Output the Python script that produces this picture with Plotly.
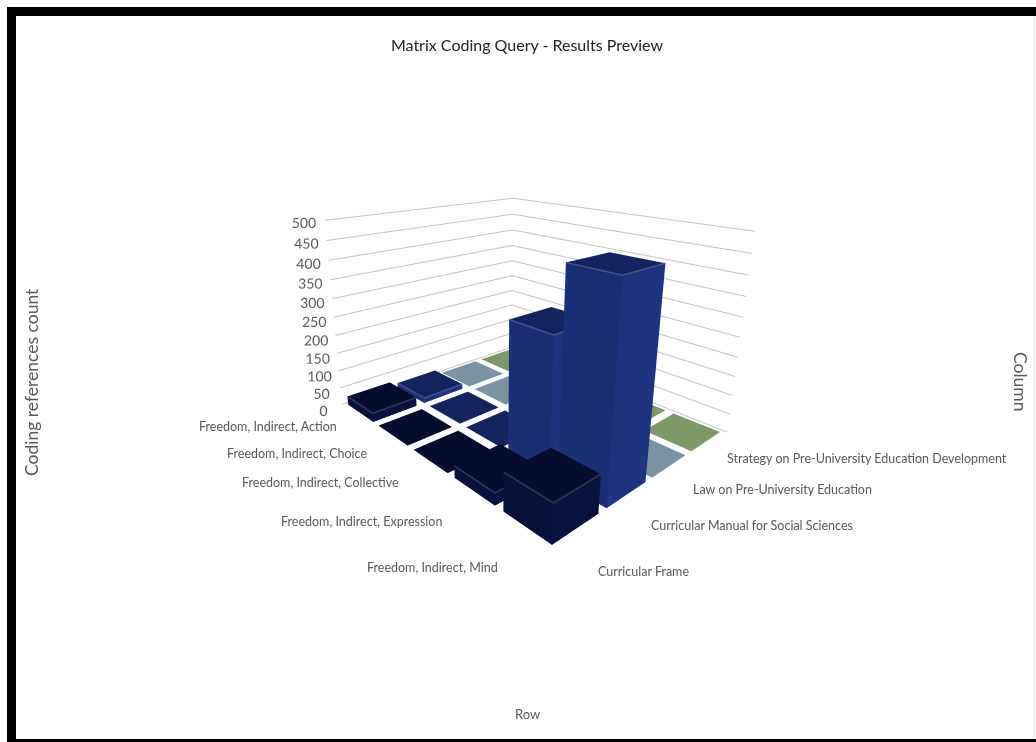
import plotly.graph_objects as go

W, H = 1036, 742
rows = ["Freedom, Indirect, Action", "Freedom, Indirect, Choice", "Freedom, Indirect, Collective",
        "Freedom, Indirect, Expression", "Freedom, Indirect, Mind"]
cols = ["Curricular Frame", "Curricular Manual for Social Sciences", "Law on Pre-University Education",
        "Strategy on Pre-University Education Development"]
frame = [25, 0, 0, 30, 90]
manual = [15, 0, 0, 325, 478]
law = [0, 0, 0, 0, 0]
strategy = [0, 0, 0, 0, 0]
ztick = [0, 50, 100, 150, 200, 250, 300, 350, 400, 450, 500]

GAP = 0.08
FONT = "Lato"
TC = "#595959"
# (top, left side, right side, top-edge highlight) for each column's bars
palette = [("#060c2e", "#071038", "#08123e", "#2f3a63"),
           ("#14245f", "#1b2f77", "#1e3480", "#46558a"),
           ("#7a93a3", "#7a93a3", "#7a93a3", "#7a93a3"),
           ("#7d9968", "#7d9968", "#7d9968", "#7d9968")]

data = []
for c, series in enumerate([frame, manual, law, strategy]):
    X, Y, Z, I, J, K, FC = [], [], [], [], [], [], []
    LX, LY, LZ = [], [], []
    top_c, left_c, right_c, edge = palette[c]
    for r, v in enumerate(series):
        n = len(X)
        x0, x1 = r + GAP, r + 1 - GAP
        y0, y1 = c + GAP, c + 1 - GAP
        X += [x0, x1, x1, x0, x0, x1, x1, x0]
        Y += [y0, y0, y1, y1, y0, y0, y1, y1]
        Z += [0, 0, 0, 0, v, v, v, v]
        quads = [((4, 5, 6, 7), top_c)]
        if v > 0:
            quads += [((0, 1, 5, 4), left_c), ((1, 2, 6, 5), right_c),
                      ((2, 3, 7, 6), right_c), ((3, 0, 4, 7), left_c)]
        for q, col in quads:
            I += [n + q[0], n + q[0]]
            J += [n + q[1], n + q[2]]
            K += [n + q[2], n + q[3]]
            FC += [col, col]
        if v > 0:
            LX += [x0, x1, x1, None]
            LY += [y0, y0, y1, None]
            LZ += [v, v, v, None]
    data.append(go.Mesh3d(x=X, y=Y, z=Z, i=I, j=J, k=K, facecolor=FC, flatshading=True, hoverinfo="skip",
                          lighting=dict(ambient=1, diffuse=0, specular=0, roughness=1, fresnel=0)))
    if LX:
        data.append(go.Scatter3d(x=LX, y=LY, z=LZ, mode="lines", line=dict(color=edge, width=3),
                                 hoverinfo="skip", showlegend=False))

ax_off = dict(showgrid=False, showline=False, zeroline=False, showticklabels=False, showspikes=False,
              showbackground=False, title="", ticks="")
fig = go.Figure(data)


def px(x):
    return x / W


def py(y):
    return 1 - y / H


ann = []


def label(x, y, t, anchor="center", size=12.5, angle=0):
    ann.append(dict(x=px(x), y=py(y), xref="paper", yref="paper", text=t, showarrow=False,
                    xanchor=anchor, yanchor="middle", textangle=angle,
                    font=dict(family=FONT, size=size, color=TC)))


for (lx, ly), t in zip([(339, 426), (369, 453), (401, 482), (444, 521), (500, 567)], rows):
    label(lx, ly, t, "right")
for (lx, ly), t in zip([(596, 571), (649, 525), (691, 489), (725, 459)], cols):
    label(lx, ly, t, "left")
label(31, 382, "Coding references count", angle=-90, size=17.5)
label(1021, 381, "Column", angle=90, size=17.5)
label(527, 714, "Row", size=13)

shapes = []


def frame_rect(x0, y0, x1, y1, color="black"):
    shapes.append(dict(type="rect", xref="paper", yref="paper", x0=px(x0), x1=px(x1), y0=py(y0), y1=py(y1),
                       fillcolor=color, line=dict(width=0)))


frame_rect(7, 7, 1036, 16)
frame_rect(7, 7, 16, 742)
frame_rect(7, 739, 1036, 742)
frame_rect(1034, 16, 1035, 739, "#e6e6e6")

fig.update_layout(
    width=W, height=H, margin=dict(l=0, r=0, t=0, b=0), paper_bgcolor="white", showlegend=False,
    title=dict(text="Matrix Coding Query - Results Preview", x=527 / W, y=1 - 45 / H, xanchor="center",
               yanchor="middle", font=dict(family=FONT, size=16, color="#222222")),
    annotations=ann, shapes=shapes,
    scene=dict(
        domain=dict(x=[0, 2 * 497.4 / W], y=[1 - 560 / H, 1 - 70 / H]),
        aspectmode="manual", aspectratio=dict(x=1, y=0.8190, z=0.6449),
        camera=dict(eye=dict(x=1.2484, y=-1.2580, z=0.6258), center=dict(x=0.7374, y=-0.7951, z=0.3974),
                    up=dict(x=0, y=0, z=1)),
        xaxis=dict(range=[0, 5], **ax_off),
        yaxis=dict(range=[0, 4], **ax_off),
        zaxis=dict(range=[0, 500], tickvals=ztick, tickangle=0, showgrid=True, gridcolor="#c4c4c4", gridwidth=2,
                   showline=False, zeroline=False, showspikes=False, showbackground=False, title="", ticks="",
                   tickfont=dict(family=FONT, size=13, color=TC))))
fig.write_html("out.html", post_script="document.body.style.margin='0';", config=dict(displayModeBar=False))
